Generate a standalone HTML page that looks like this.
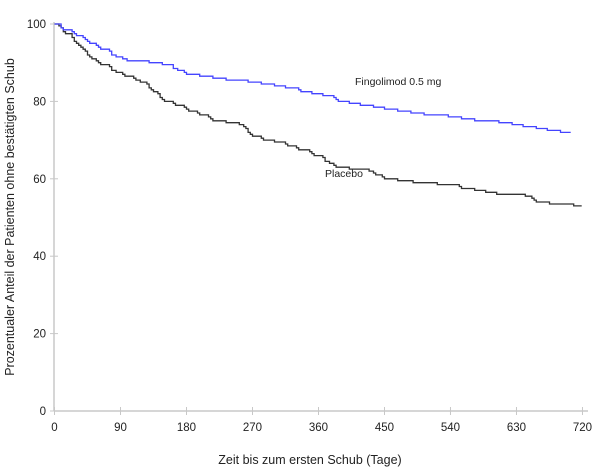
<!DOCTYPE html>
<html><head><meta charset="utf-8"><style>
body{margin:0;background:#fff;}
svg{display:block;font-family:"Liberation Sans",sans-serif;}
</style></head><body>
<svg id="s" width="605" height="474" xmlns="http://www.w3.org/2000/svg">
<g stroke="#c8c8c8" stroke-width="1.5" fill="none">
<line x1="54" y1="22" x2="54" y2="411"/>
<line x1="54" y1="411" x2="588" y2="411"/>
</g>
<g id="ticks" stroke="#c8c8c8" stroke-width="1"></g>
<g id="labels" font-size="11.5" fill="#222"></g>
<text x="355" y="85" font-size="10.5" fill="#222">Fingolimod 0.5 mg</text>
<text x="325" y="177" font-size="10.5" fill="#222">Placebo</text>
<text x="310" y="464" font-size="12.5" fill="#222" text-anchor="middle">Zeit bis zum ersten Schub (Tage)</text>
<text transform="translate(14,217) rotate(-90)" font-size="12.5" fill="#222" text-anchor="middle">Prozentualer Anteil der Patienten ohne bestätigten Schub</text>
<path id="pl" fill="none" stroke="#333" stroke-width="1.3"/>
<path id="fi" fill="none" stroke="#4444ff" stroke-width="1.3"/>
</svg>
<script>
var X=function(d){return 54.5+0.7333*d},Y=function(v){return 411-3.87*v};
var ns="http://www.w3.org/2000/svg",t=document.getElementById('ticks'),l=document.getElementById('labels');
for(var d=0;d<=720;d+=90){var ln=document.createElementNS(ns,'line');ln.setAttribute('x1',X(d));ln.setAttribute('x2',X(d));ln.setAttribute('y1',407);ln.setAttribute('y2',415);t.appendChild(ln);
var tx=document.createElementNS(ns,'text');tx.setAttribute('x',X(d));tx.setAttribute('y',431);tx.setAttribute('text-anchor','middle');tx.textContent=d;l.appendChild(tx);}
for(var v=0;v<=100;v+=20){var ln=document.createElementNS(ns,'line');ln.setAttribute('x1',50);ln.setAttribute('x2',58);ln.setAttribute('y1',Y(v));ln.setAttribute('y2',Y(v));t.appendChild(ln);
var tx=document.createElementNS(ns,'text');tx.setAttribute('x',46);tx.setAttribute('y',Y(v)+4);tx.setAttribute('text-anchor','end');tx.textContent=v;l.appendChild(tx);}
function steps(k,end){var p='M'+X(0)+','+Y(100),cur=100;
for(var d=3;d<=end;d+=3){var i=0;while(i<k.length-1&&k[i+1][0]<d)i++;
var a=k[i],b=k[Math.min(i+1,k.length-1)];var v=b[0]==a[0]?a[1]:a[1]+(b[1]-a[1])*(d-a[0])/(b[0]-a[0]);
v+=Math.sin(d*0.37)*0.3;if(cur-v>0.45){p+='H'+X(d).toFixed(1);cur=Math.round((cur-0.5)*2)/2;while(cur-v>0.45)cur-=0.5;p+='V'+Y(cur).toFixed(1);}}
p+='H'+X(end).toFixed(1);return p;}
document.getElementById('fi').setAttribute('d',steps([[0,100],[20,98],[50,95],[90,91],[150,89.5],[170,88],[180,87],[270,85],[330,83],[360,82],[400,79.5],[450,78],[540,76],[630,74],[690,72],[704,71.7]],704));
document.getElementById('pl').setAttribute('d',steps([[0,100],[20,97],[50,91],[90,87],[120,85],[150,80],[180,78],[220,75],[250,74.5],[270,71],[320,68.5],[350,66.5],[365,65.5],[380,63],[420,62.5],[450,60],[500,59],[540,58.4],[600,56],[640,55.8],[655,54],[690,53.5],[719,52.7]],719));
</script>
</body></html>
